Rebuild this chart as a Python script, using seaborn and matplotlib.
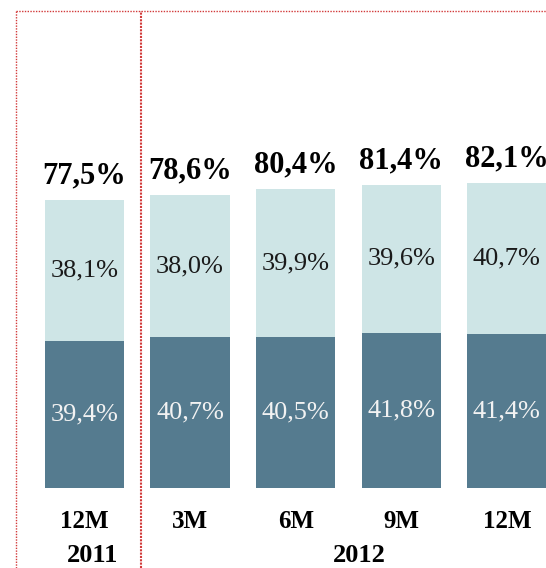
import pandas as pd
import seaborn as sns
import matplotlib
matplotlib.use("Agg")
import matplotlib.pyplot as plt
from matplotlib.lines import Line2D

### DATA ###
periods = ["12M", "3M", "6M", "9M", "12M"]
years = ["2011", "2012"]
bottom_share = [39.4, 40.7, 40.5, 41.8, 41.4]
top_share = [38.1, 38.0, 39.9, 39.6, 40.7]
totals = [77.5, 78.6, 80.4, 81.4, 82.1]

DARK = "#557b8f"
LIGHT = "#cee5e6"
RED = "#d23a3a"

sns.set_theme(style="white")
plt.rcParams["font.family"] = ["Liberation Serif", "DejaVu Serif"]

df = pd.DataFrame({
    "pos": range(len(periods)),
    "bottom": bottom_share,
    "top": top_share,
})
df["total"] = df["bottom"] + df["top"]

fig = plt.figure(figsize=(5.46, 5.68), dpi=100)
ax = fig.add_axes([0, 0, 1, 1])

# stacked bars: draw the full height in light, then the bottom part in dark
sns.barplot(data=df, x="pos", y="total", color=LIGHT, width=0.75,
            saturation=1, ax=ax, linewidth=0)
sns.barplot(data=df, x="pos", y="bottom", color=DARK, width=0.75,
            saturation=1, ax=ax, linewidth=0)

ax.set_xlim(-0.80, 4.37)
ax.set_ylim(-21.5, 131.2)
ax.axis("off")

for i in range(len(periods)):
    b = bottom_share[i]
    t = top_share[i]
    ax.text(i, b / 2, f"{b:.1f}%".replace(".", ","), ha="center", va="center",
            fontsize=19, color="#f2f2f2")
    ax.text(i, b + t / 2, f"{t:.1f}%".replace(".", ","), ha="center", va="center",
            fontsize=19, color="#1a1a1a")
    ax.annotate(f"{totals[i]:.1f}%".replace(".", ","), (i, b + t),
                xytext=(0, 7), textcoords="offset points", ha="center",
                va="bottom", fontsize=22, fontweight="bold", color="black")
    ax.text(i, -8.9, periods[i], ha="center", va="center", fontsize=18,
            fontweight="bold", color="black")

ax.text(0.08, -18.2, years[0], ha="center", va="center", fontsize=19,
        fontweight="bold", color="black")
ax.text(2.6, -18.2, years[1], ha="center", va="center", fontsize=19,
        fontweight="bold", color="black")

# dotted frame of the slide box
W, H = 546, 568
fig.add_artist(Line2D([15.5 / W, 1], [1 - 10.5 / H, 1 - 10.5 / H],
                      transform=fig.transFigure, color=RED, lw=1,
                      ls=(0, (1, 1))))
fig.add_artist(Line2D([15.5 / W, 15.5 / W], [0, 1 - 10.5 / H],
                      transform=fig.transFigure, color=RED, lw=1,
                      ls=(0, (1, 1))))
fig.add_artist(Line2D([141 / W, 141 / W], [0, 1 - 10.5 / H],
                      transform=fig.transFigure, color=RED, lw=1.5,
                      ls=(0, (1, 0.6))))

fig.savefig("out.png", dpi=100, facecolor="white")
